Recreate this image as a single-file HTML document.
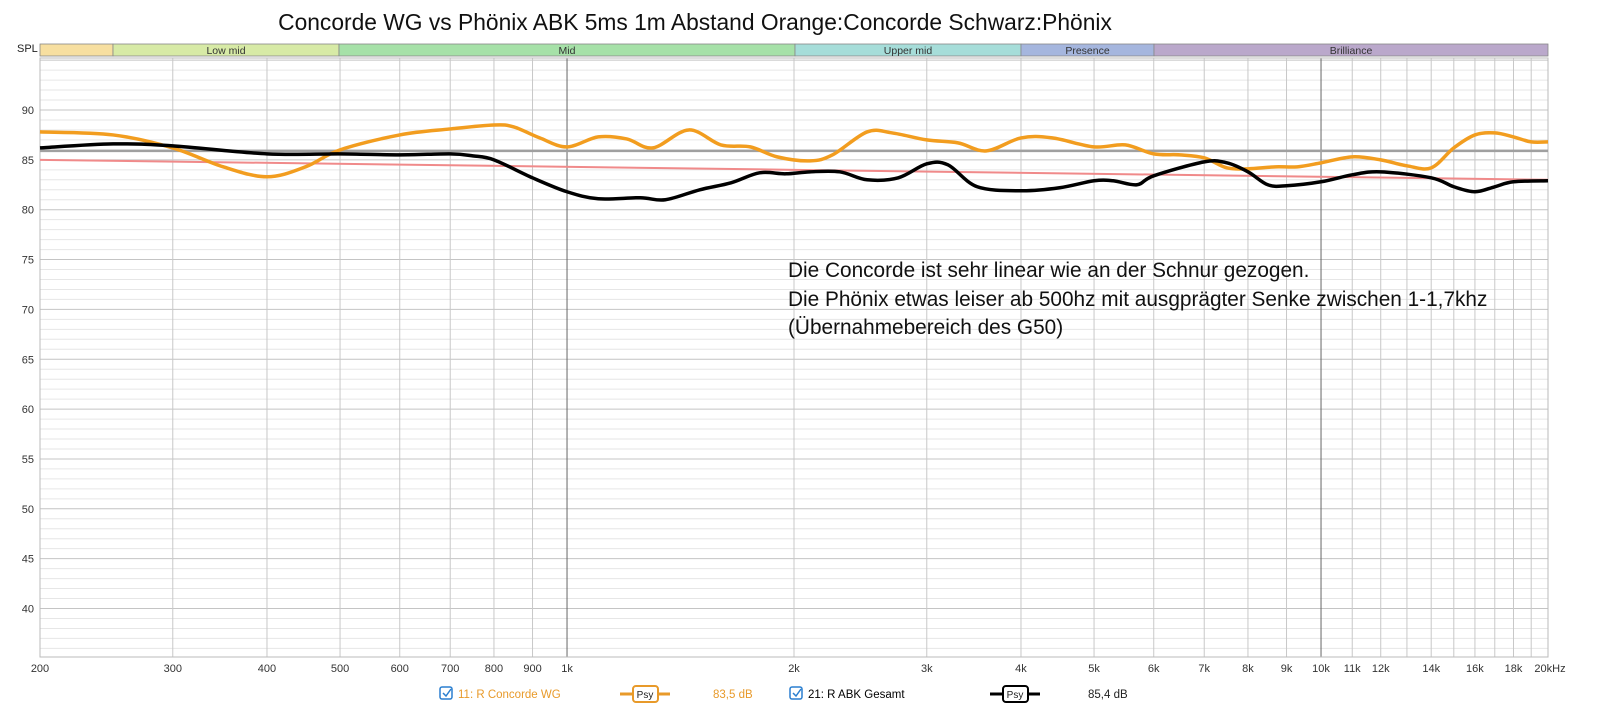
<!DOCTYPE html>
<html><head><meta charset="utf-8"><style>
body{margin:0;background:#fff;width:1601px;height:721px;overflow:hidden;font-family:"Liberation Sans",sans-serif}
</style></head><body>
<svg id="s" width="1601" height="721" xmlns="http://www.w3.org/2000/svg" font-family="Liberation Sans, sans-serif"></svg>
<script>
const L=40,R=1548,T=58,B=657;
const X=f=>L+Math.log10(f/200)/2*(R-L);
const Y=v=>110+(90-v)*9.97;
let h='';
h+=`<text x="695" y="30" font-size="22.8" text-anchor="middle" fill="#111">Concorde WG vs Phönix ABK 5ms 1m Abstand Orange:Concorde Schwarz:Phönix</text>`;
h+=`<text x="17" y="52" font-size="11" fill="#222">SPL</text>`;
const bands=[[40,113,'#f7dfa0',''],[113,339,'#d7eaa6','Low mid'],[339,795,'#a6e1a8','Mid'],[795,1021,'#a6ddd9','Upper mid'],[1021,1154,'#a5b6de','Presence'],[1154,1548,'#baa8cb','Brilliance']];
for(const b of bands){h+=`<rect x="${b[0]}" y="44" width="${b[1]-b[0]}" height="12" fill="${b[2]}" stroke="#888" stroke-width="0.8"/><text x="${(b[0]+b[1])/2}" y="54" font-size="10.5" text-anchor="middle" fill="#333">${b[3]}</text>`;}
for(let v=36;v<=95;v++){const y=Y(v);h+=`<line x1="${L}" x2="${R}" y1="${y}" y2="${y}" stroke="${v%5==0?'#c4c4c4':'#e6e6e6'}" stroke-width="1"/>`;if(v%5==0&&v<=90&&v>=40)h+=`<text x="34" y="${y+4}" font-size="11" text-anchor="end" fill="#333">${v}</text>`;}
const fs=[];for(let f=200;f<1000;f+=100)fs.push(f);for(let f=1000;f<10000;f+=1000)fs.push(f);for(let f=10000;f<=20000;f+=1000)fs.push(f);
const lab={200:'200',300:'300',400:'400',500:'500',600:'600',700:'700',800:'800',900:'900',1000:'1k',2000:'2k',3000:'3k',4000:'4k',5000:'5k',6000:'6k',7000:'7k',8000:'8k',9000:'9k',10000:'10k',11000:'11k',12000:'12k',14000:'14k',16000:'16k',18000:'18k',20000:'20kHz'};
for(const f of fs){const x=X(f);const dk=f==1000||f==10000;h+=`<line x1="${x}" x2="${x}" y1="${T}" y2="${B}" stroke="${dk?'#666':'#c8c8c8'}" stroke-width="1"/>`;if(lab[f])h+=`<text x="${x+(f==20000?2:0)}" y="672" font-size="11" text-anchor="middle" fill="#333">${lab[f]}</text>`;}
h+=`<rect x="${L}" y="${T}" width="${R-L}" height="${B-T}" fill="none" stroke="#bbb"/>`;
function path(pts,col,w){const p=pts.map(a=>[X(a[0]),Y(a[1])]);let d=`M${p[0][0]},${p[0][1]}`;for(let i=0;i<p.length-1;i++){const p0=p[Math.max(0,i-1)],p1=p[i],p2=p[i+1],p3=p[Math.min(p.length-1,i+2)];d+=` C${p1[0]+(p2[0]-p0[0])/6},${p1[1]+(p2[1]-p0[1])/6} ${p2[0]-(p3[0]-p1[0])/6},${p2[1]-(p3[1]-p1[1])/6} ${p2[0]},${p2[1]}`;}return `<path d="${d}" fill="none" stroke="${col}" stroke-width="${w}" stroke-linejoin="round"/>`;}
h+=path([[200,85.9],[20000,85.9]],'#a0a0a0',2.5);
h+=path([[200,85],[20000,83]],'#f08a8a',2);
const o=[[200,87.8],[250,87.5],[300,86.2],[350,84.3],[400,83.3],[450,84.3],[500,86],[600,87.5],[700,88.1],[800,88.5],[850,88.3],[920,87.2],[1000,86.3],[1100,87.3],[1200,87.1],[1300,86.2],[1450,88],[1600,86.5],[1750,86.3],[1900,85.3],[2100,84.9],[2250,85.5],[2500,87.8],[2700,87.7],[3000,87],[3300,86.7],[3600,85.9],[4000,87.2],[4400,87.2],[5000,86.3],[5500,86.5],[6000,85.6],[6500,85.5],[7000,85.2],[7500,84.2],[8000,84.1],[8700,84.3],[9300,84.3],[10000,84.7],[11000,85.3],[12000,85],[13000,84.4],[14000,84.2],[15000,86.2],[16000,87.5],[17000,87.7],[18000,87.3],[19000,86.8],[20000,86.8]];
const k=[[200,86.2],[250,86.6],[300,86.4],[400,85.6],[500,85.6],[600,85.5],[700,85.6],[750,85.4],[800,85],[900,83.2],[1000,81.8],[1100,81.1],[1250,81.2],[1350,81],[1500,82],[1650,82.7],[1800,83.7],[1950,83.6],[2100,83.8],[2300,83.8],[2500,83],[2750,83.2],[3000,84.6],[3200,84.5],[3500,82.3],[4000,81.9],[4500,82.2],[5000,82.9],[5300,82.9],[5700,82.5],[6000,83.4],[7000,84.8],[7500,84.7],[8000,83.8],[8500,82.5],[9000,82.4],[10000,82.8],[11000,83.5],[12000,83.8],[14000,83.2],[15000,82.3],[16000,81.8],[17000,82.3],[18000,82.8],[20000,82.9]];
h+=path(o,'#f29d1f',3.5);
h+=path(k,'#000',3.5);
h+=`<g font-size="20.8" fill="#111"><text x="788" y="277">Die Concorde ist sehr linear wie an der Schnur gezogen.</text><text x="788" y="306">Die Phönix etwas leiser ab 500hz mit ausgprägter Senke zwischen 1-1,7khz</text><text x="788" y="334">(Übernahmebereich des G50)</text></g>`;
function leg(x,col,txt,db,dbx,px){return `<rect x="${x}" y="687" width="12" height="12" rx="2" fill="#fff" stroke="#2a7fd0" stroke-width="1.5"/><path d="M${x+3},${693} l3,3 l5,-7" fill="none" stroke="#2a7fd0" stroke-width="1.5"/><text x="${x+18}" y="698" font-size="11.5" fill="${col}">${txt}</text><line x1="${px}" x2="${px+50}" y1="694" y2="694" stroke="${col}" stroke-width="3"/><rect x="${px+13}" y="686" width="25" height="16" rx="3" fill="#fff" stroke="${col}" stroke-width="2"/><text x="${px+25}" y="698" font-size="10" text-anchor="middle" fill="#222">Psy</text><text x="${dbx}" y="698" font-size="11.5" fill="${col=='#000'?'#222':col}">${db}</text>`;}
h+=leg(440,'#e89a2a','11: R Concorde WG','83,5 dB',713,620);
h+=leg(790,'#000','21: R ABK Gesamt','85,4 dB',1088,990);
document.getElementById('s').innerHTML=h;
</script>
</body></html>
